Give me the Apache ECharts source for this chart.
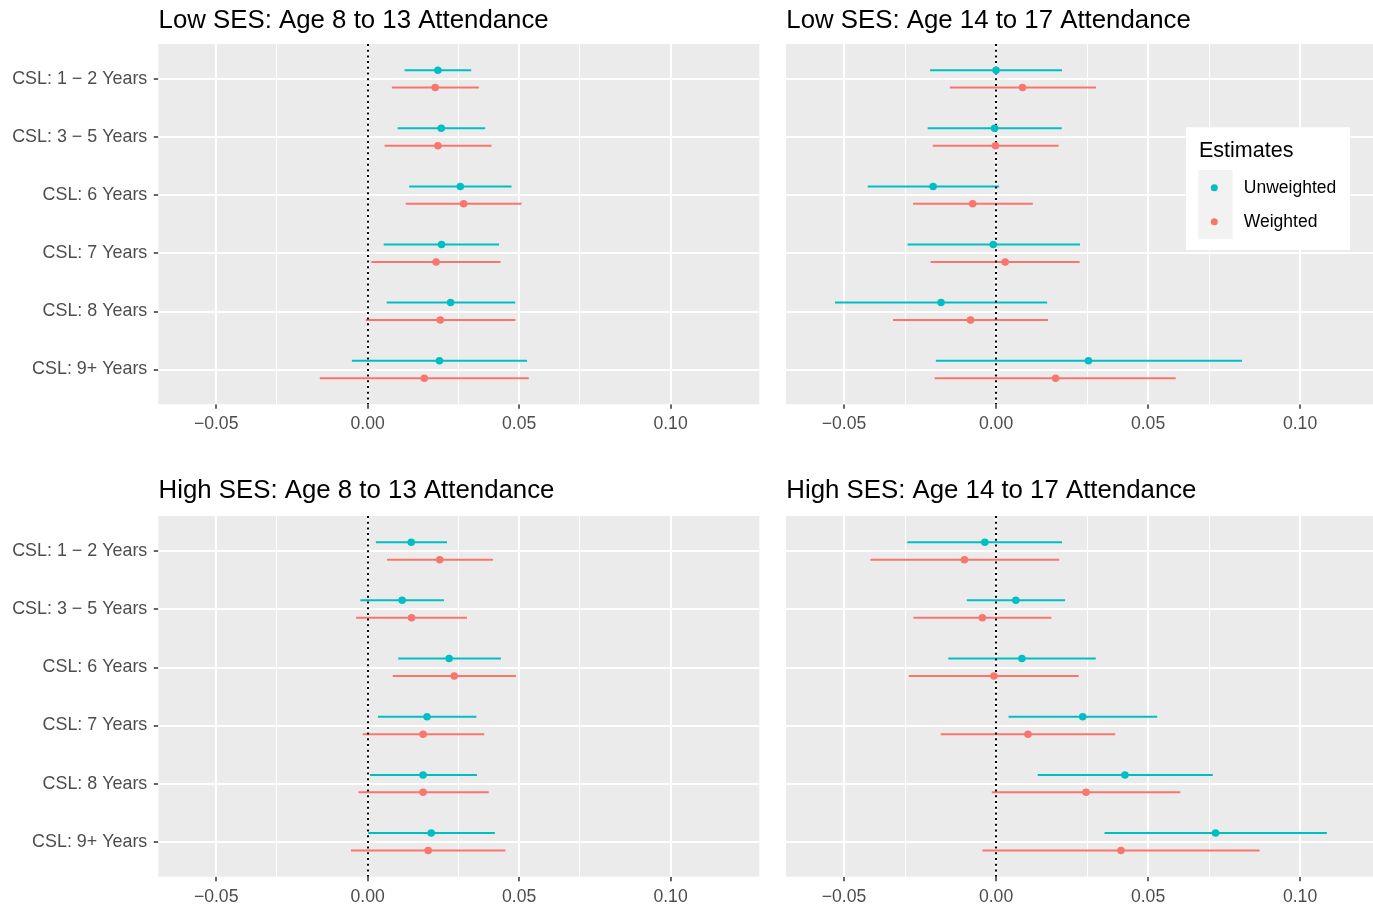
<!DOCTYPE html>
<html>
<head>
<meta charset="utf-8">
<script src="https://cdn.jsdelivr.net/npm/echarts@6/dist/echarts.min.js"></script>
<style>
html, body { margin: 0; padding: 0; background: #ffffff; }
#chart { width: 1373px; height: 906px; }
</style>
</head>
<body>
<div id="chart"></div>
<script>
// ---------- DATA ----------
const categories = ['CSL: 1 \u2212 2 Years', 'CSL: 3 \u2212 5 Years', 'CSL: 6 Years', 'CSL: 7 Years', 'CSL: 8 Years', 'CSL: 9+ Years'];
const seriesNames = ['Unweighted', 'Weighted'];
const xTickValues = [-0.05, 0, 0.05, 0.10];
const xTickLabels = ['\u22120.05', '0.00', '0.05', '0.10'];
const xMinorValues = [-0.025, 0.025, 0.075, 0.125];
const panelTitles = [
  'Low SES: Age 8 to 13 Attendance',
  'Low SES: Age 14 to 17 Attendance',
  'High SES: Age 8 to 13 Attendance',
  'High SES: Age 14 to 17 Attendance'
];

// Low SES, age 8-13
const lowYoungUnwEst = [0.0232, 0.0243, 0.0306, 0.0244, 0.0274, 0.0237];
const lowYoungUnwLo  = [0.0122, 0.0099, 0.0137, 0.0053, 0.0063, -0.0052];
const lowYoungUnwHi  = [0.0342, 0.0388, 0.0475, 0.0434, 0.0487, 0.0526];
const lowYoungWEst   = [0.0223, 0.0232, 0.0317, 0.0226, 0.0240, 0.0187];
const lowYoungWLo    = [0.0080, 0.0056, 0.0126, 0.0012, -0.0006, -0.0158];
const lowYoungWHi    = [0.0367, 0.0409, 0.0508, 0.0439, 0.0488, 0.0532];

// Low SES, age 14-17
const lowOldUnwEst = [0.0000, -0.0005, -0.0207, -0.0009, -0.0181, 0.0304];
const lowOldUnwLo  = [-0.0217, -0.0225, -0.0422, -0.0291, -0.0530, -0.0198];
const lowOldUnwHi  = [0.0217, 0.0216, 0.0010, 0.0276, 0.0168, 0.0809];
const lowOldWEst   = [0.0087, -0.0002, -0.0077, 0.0030, -0.0084, 0.0196];
const lowOldWLo    = [-0.0152, -0.0208, -0.0273, -0.0215, -0.0339, -0.0202];
const lowOldWHi    = [0.0329, 0.0206, 0.0121, 0.0275, 0.0171, 0.0591];

// High SES, age 8-13
const highYoungUnwEst = [0.0144, 0.0114, 0.0269, 0.0196, 0.0183, 0.0210];
const highYoungUnwLo  = [0.0027, -0.0024, 0.0101, 0.0034, 0.0008, 0.0002];
const highYoungUnwHi  = [0.0262, 0.0252, 0.0440, 0.0359, 0.0361, 0.0420];
const highYoungWEst   = [0.0238, 0.0145, 0.0286, 0.0183, 0.0183, 0.0200];
const highYoungWLo    = [0.0064, -0.0038, 0.0083, -0.0016, -0.0030, -0.0055];
const highYoungWHi    = [0.0414, 0.0328, 0.0490, 0.0385, 0.0400, 0.0455];

// High SES, age 14-17
const highOldUnwEst = [-0.0037, 0.0065, 0.0085, 0.0285, 0.0424, 0.0722];
const highOldUnwLo  = [-0.0292, -0.0096, -0.0157, 0.0041, 0.0137, 0.0357];
const highOldUnwHi  = [0.0217, 0.0227, 0.0328, 0.0530, 0.0713, 0.1088];
const highOldWEst   = [-0.0104, -0.0045, -0.0007, 0.0105, 0.0296, 0.0411];
const highOldWLo    = [-0.0413, -0.0272, -0.0287, -0.0182, -0.0014, -0.0045];
const highOldWHi    = [0.0208, 0.0182, 0.0272, 0.0392, 0.0606, 0.0867];

// ---------- LAYOUT / STYLE ----------
const FONT = '"Liberation Sans", Arial, Helvetica, sans-serif';
const COLORS = { Unweighted: '#00BFC4', Weighted: '#F8766D' };
const DODGE = { Unweighted: -0.15, Weighted: 0.15 };

const panels = [
  { title: panelTitles[0], titleTop: 8, grid: { left: 158.3, top: 44, width: 601, height: 360.3 }, xMin: -0.0691, xMax: 0.1293, showY: true,
    data: { Unweighted: [lowYoungUnwEst, lowYoungUnwLo, lowYoungUnwHi], Weighted: [lowYoungWEst, lowYoungWLo, lowYoungWHi] } },
  { title: panelTitles[1], titleTop: 8, grid: { left: 786, top: 44, width: 587, height: 360.3 }, xMin: -0.0691, xMax: 0.1240, showY: false,
    data: { Unweighted: [lowOldUnwEst, lowOldUnwLo, lowOldUnwHi], Weighted: [lowOldWEst, lowOldWLo, lowOldWHi] } },
  { title: panelTitles[2], titleTop: 478, grid: { left: 158.3, top: 516, width: 601, height: 360.7 }, xMin: -0.0691, xMax: 0.1293, showY: true,
    data: { Unweighted: [highYoungUnwEst, highYoungUnwLo, highYoungUnwHi], Weighted: [highYoungWEst, highYoungWLo, highYoungWHi] } },
  { title: panelTitles[3], titleTop: 478, grid: { left: 786, top: 516, width: 587, height: 360.7 }, xMin: -0.0691, xMax: 0.1240, showY: false,
    data: { Unweighted: [highOldUnwEst, highOldUnwLo, highOldUnwHi], Weighted: [highOldWEst, highOldWLo, highOldWHi] } }
];

const catIdx = categories.map((c, k) => k);

const grids = [], xAxes = [], yAxes = [], titles = [], series = [];

panels.forEach((p, i) => {
  grids.push(Object.assign({ show: true, backgroundColor: '#EBEBEB', borderWidth: 0, containLabel: false }, p.grid));
  titles.push({
    text: p.title, left: p.grid.left + 0.3, top: p.titleTop, padding: 0,
    textStyle: { fontSize: 25.8, fontWeight: 'normal', color: '#000000', fontFamily: FONT }
  });
  xAxes.push({
    type: 'value', gridIndex: i, min: p.xMin, max: p.xMax,
    splitLine: { show: false },
    axisLine: { show: false, onZero: false },
    axisTick: { show: true, customValues: xTickValues, length: 4.5, lineStyle: { color: '#333333', width: 1.5 } },
    axisLabel: {
      customValues: xTickValues, margin: 11, color: '#4D4D4D', fontSize: 17.6, fontFamily: FONT,
      formatter: v => { const k = xTickValues.findIndex(t => Math.abs(t - v) < 1e-9); return k >= 0 ? xTickLabels[k] : ''; }
    }
  });
  yAxes.push({
    type: 'value', gridIndex: i, min: -0.6, max: categories.length - 0.4, inverse: true,
    splitLine: { show: false },
    axisLine: { show: false, onZero: false },
    axisTick: { show: p.showY, customValues: catIdx, length: 4.5, lineStyle: { color: '#333333', width: 1.5 } },
    axisLabel: {
      show: p.showY, customValues: catIdx, margin: 11, color: '#4D4D4D', fontSize: 17.9, fontFamily: FONT,
      formatter: v => categories[Math.round(v)] || ''
    }
  });

  // grid lines (minor + major + category lines)
  const gridLineData = []
    .concat(xMinorValues.filter(v => v >= p.xMin && v <= p.xMax).map(v => ({ xAxis: v, lineStyle: { color: '#FFFFFF', width: 1.05, type: 'solid' } })))
    .concat(xTickValues.map(v => ({ xAxis: v, lineStyle: { color: '#FFFFFF', width: 2.1, type: 'solid' } })))
    .concat(catIdx.map(k => ({ yAxis: k, lineStyle: { color: '#FFFFFF', width: 2.1, type: 'solid' } })));
  series.push({
    type: 'scatter', name: 'grid' + i, xAxisIndex: i, yAxisIndex: i, data: [], silent: true, z: 1,
    markLine: { z: 1, silent: true, symbol: ['none', 'none'], label: { show: false }, emphasis: { disabled: true }, animation: false, data: gridLineData }
  });

  // error bars
  seriesNames.forEach(name => {
    const [est, lo, hi] = p.data[name];
    series.push({
      type: 'custom', name: name + ' CI', xAxisIndex: i, yAxisIndex: i, z: 2, silent: true,
      encode: { x: [0, 1], y: 2 },
      data: categories.map((c, k) => [lo[k], hi[k], k + DODGE[name]]),
      renderItem: (params, api) => {
        const a = api.coord([api.value(0), api.value(2)]);
        const b = api.coord([api.value(1), api.value(2)]);
        return { type: 'line', shape: { x1: a[0], y1: a[1], x2: b[0], y2: b[1] }, style: { stroke: COLORS[name], lineWidth: 2 } };
      }
    });
  });

  // zero reference line
  series.push({
    type: 'scatter', name: 'zero' + i, xAxisIndex: i, yAxisIndex: i, data: [], silent: true, z: 3,
    markLine: { z: 3, silent: true, symbol: ['none', 'none'], label: { show: false }, emphasis: { disabled: true }, animation: false,
      data: [{ xAxis: 0, lineStyle: { color: '#000000', width: 2, type: [2, 3.7] } }] }
  });

  // point estimates
  seriesNames.forEach(name => {
    const [est] = p.data[name];
    series.push({
      type: 'scatter', name: name, xAxisIndex: i, yAxisIndex: i, z: 4,
      symbol: 'circle', symbolSize: 7.5,
      itemStyle: { color: COLORS[name], opacity: 1 },
      data: categories.map((c, k) => [est[k], k + DODGE[name]])
    });
  });
});

const chart = echarts.init(document.getElementById('chart'), null, { renderer: 'canvas' });
chart.setOption({
  animation: false,
  textStyle: { fontFamily: FONT },
  title: titles,
  grid: grids,
  xAxis: xAxes,
  yAxis: yAxes,
  legend: {
    data: seriesNames.map(n => ({ name: n, icon: 'circle' })),
    orient: 'vertical', left: 1210.8, top: 170.7, padding: 0, itemGap: 0,
    itemWidth: 7, itemHeight: 7, selectedMode: false, z: 10,
    textStyle: { fontSize: 17.5, color: '#000000', fontFamily: FONT, lineHeight: 34, padding: [0, 0, 0, 21] }
  },
  graphic: {
    z: 8,
    elements: [
      { type: 'rect', left: 1186, top: 127.3, z: 8, shape: { width: 164, height: 122.7 }, style: { fill: '#FFFFFF' } },
      { type: 'rect', left: 1198.3, top: 170, z: 9, shape: { width: 34.4, height: 69.3 }, style: { fill: '#F2F2F2' } },
      { type: 'text', left: 1199, top: 140, z: 9, style: { text: 'Estimates', fontSize: 21.5, fill: '#000000', fontFamily: FONT } }
    ]
  },
  series: series
});
</script>
</body>
</html>
